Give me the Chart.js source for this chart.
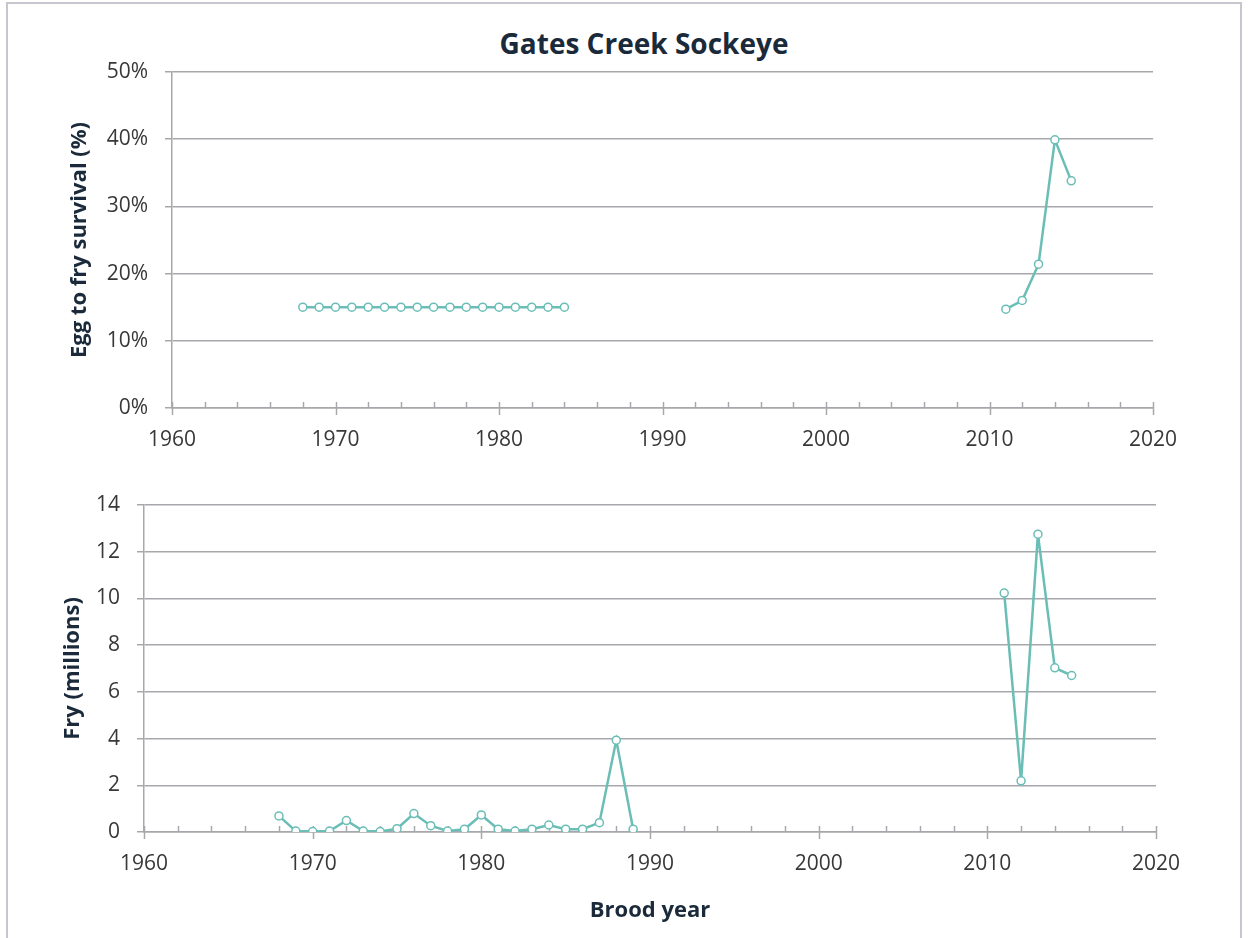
<!DOCTYPE html>
<html>
<head>
<meta charset="utf-8">
<script src="https://cdn.jsdelivr.net/npm/chart.js@4"></script>
<style>
  html, body { margin: 0; padding: 0; background: #fff; overflow: hidden; }
  body { width: 1251px; height: 938px; position: relative; }
  .frame { position: absolute; left: 6px; top: 2px; width: 1236px; height: 980px;
           border: 2px solid #c6c6ce; box-sizing: border-box; }
  .title { position: absolute; left: 0; width: 1288px; top: 24px; line-height: 32px; text-align: center;
           font: bold 28px "Open Sans", sans-serif; color: #1b2a3b; }
  #survivalChart { position: absolute; left: 0; top: 0; }
  #fryChart { position: absolute; left: 0; top: 470px; }
</style>
</head>
<body>
<div class="frame"></div>
<div class="title">Gates Creek Sockeye</div>
<canvas id="survivalChart" width="1251" height="470"></canvas>
<canvas id="fryChart" width="1251" height="468"></canvas>
<script>
const survivalYears = [1968, 1969, 1970, 1971, 1972, 1973, 1974, 1975, 1976, 1977, 1978, 1979, 1980, 1981, 1982, 1983, 1984,
  2011, 2012, 2013, 2014, 2015];
const survival = [15, 15, 15, 15, 15, 15, 15, 15, 15, 15, 15, 15, 15, 15, 15, 15, 15,
  14.7, 16.0, 21.4, 39.9, 33.8];

const fryYears = [1968, 1969, 1970, 1971, 1972, 1973, 1974, 1975, 1976, 1977, 1978, 1979, 1980, 1981, 1982, 1983, 1984,
  1985, 1986, 1987, 1988, 1989, 2011, 2012, 2013, 2014, 2015];
const fry = [0.69, 0.04, 0.02, 0.04, 0.49, 0.04, 0.02, 0.14, 0.79, 0.27, 0.04, 0.12, 0.73, 0.12, 0.04, 0.12, 0.30,
  0.12, 0.12, 0.40, 3.93, 0.12, 10.23, 2.19, 12.75, 7.03, 6.70];

const yearTicks = [1960, 1970, 1980, 1990, 2000, 2010, 2020];
const survivalTicks = [0, 10, 20, 30, 40, 50];
const fryTicks = [0, 2, 4, 6, 8, 10, 12, 14];

const teal = "rgb(106, 190, 182)";
const gridGray = "#a8a8ac";
const labelColor = "#383838";
const titleColor = "#1b2a3b";

Chart.defaults.font.family = "'Open Sans', sans-serif";
Chart.defaults.color = labelColor;

// small ticks every 2 years, longer ones at each decade
const yearTickMarks = {
  id: "yearTickMarks",
  beforeDatasetsDraw(chart) {
    const x = chart.scales.x;
    const ctx = chart.ctx;
    const base = chart.chartArea.bottom;
    ctx.save();
    ctx.strokeStyle = gridGray;
    ctx.lineWidth = 1.5;
    for (let yr = 1960; yr <= 2020; yr += 2) {
      const px = Math.round(x.getPixelForValue(yr)) + 0.5;
      const decade = yr % 10 === 0;
      ctx.beginPath();
      ctx.moveTo(px, base - 6);
      ctx.lineTo(px, decade ? base + 7 : base);
      ctx.stroke();
    }
    ctx.restore();
  }
};

function lineSet(years, values) {
  return {
    data: years.map((yr, i) => ({ x: yr, y: values[i] })),
    borderColor: teal,
    borderWidth: 2.5,
    pointRadius: 4,
    pointBorderWidth: 1.5,
    pointBackgroundColor: "#fff",
    pointBorderColor: teal,
    pointHoverRadius: 4,
    tension: 0,
    segment: {
      // no line across the years with no data
      borderColor: c => (c.p1.parsed.x - c.p0.parsed.x > 5 ? "rgba(0,0,0,0)" : teal)
    }
  };
}

function makeChart(id, opts) {
  new Chart(document.getElementById(id), {
    type: "line",
    data: { datasets: [lineSet(opts.years, opts.values)] },
    options: {
      responsive: false,
      animation: false,
      events: [],
      layout: { padding: opts.padding },
      plugins: { legend: { display: false }, tooltip: { enabled: false }, title: { display: false } },
      scales: {
        x: {
          type: "linear",
          min: 1960,
          max: 2020,
          afterBuildTicks: s => { s.ticks = yearTicks.map(v => ({ value: v })); },
          afterFit: s => { s.height = opts.xHeight; },
          grid: { display: false },
          border: { color: gridGray, width: 1.5 },
          ticks: { padding: 11, font: { size: 21 }, color: labelColor, callback: v => String(v) },
          title: opts.xTitle ? {
            display: true, text: opts.xTitle, color: titleColor,
            font: { size: 22, weight: "bold" }, padding: { top: 0, bottom: 0 }
          } : { display: false }
        },
        y: {
          min: opts.yMin,
          max: opts.yMax,
          afterBuildTicks: s => { s.ticks = opts.yTicks.map(v => ({ value: v })); },
          afterFit: s => { s.width = opts.yWidth; },
          grid: { color: gridGray, lineWidth: 1.5, tickLength: 7 },
          border: { color: gridGray, width: 1.5 },
          ticks: { padding: opts.yPad, font: { size: 21 }, color: labelColor, callback: opts.yFormat },
          title: {
            display: true, text: opts.yTitle, color: titleColor,
            font: { size: 22, weight: "bold" }, padding: { top: opts.yTitlePad, bottom: 0 }
          }
        }
      }
    },
    plugins: [yearTickMarks]
  });
}

makeChart("survivalChart", {
  years: survivalYears,
  values: survival,
  padding: { left: 60, right: 98, top: 72, bottom: 12 },
  xHeight: 50,
  yWidth: 112,
  yPad: 17,
  yTitlePad: 7,
  yMin: 0,
  yMax: 50,
  yTicks: survivalTicks,
  yFormat: v => v + "%",
  yTitle: "Egg to fry survival (%)"
});

makeChart("fryChart", {
  years: fryYears,
  values: fry,
  padding: { left: 50, right: 95, top: 35, bottom: 14 },
  xHeight: 92,
  yWidth: 94,
  yPad: 17,
  yTitlePad: 10,
  yMin: 0,
  yMax: 14,
  yTicks: fryTicks,
  yFormat: v => String(v),
  yTitle: "Fry (millions)",
  xTitle: "Brood year"
});
</script>
</body>
</html>
